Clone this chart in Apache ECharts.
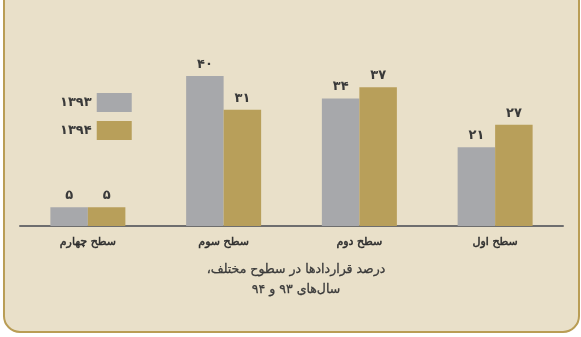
<!DOCTYPE html>
<html>
<head>
<meta charset="utf-8">
<script src="https://cdn.jsdelivr.net/npm/echarts@6/dist/echarts.min.js"></script>
<style>
  html, body { margin: 0; padding: 0; background: #ffffff; }
  #chart { width: 581px; height: 337px; }
</style>
</head>
<body>
<div id="chart"></div>
<script>
// Levels, listed left to right as drawn (the first level sits at the right)
const categories = ['سطح چهارم', 'سطح سوم', 'سطح دوم', 'سطح اول'];
const seriesNames = ['۱۳۹۳', '۱۳۹۴'];
const values1393 = [5, 40, 34, 21];
const values1394 = [5, 31, 37, 27];

const persianDigits = '۰۱۲۳۴۵۶۷۸۹';
const toPersian = n => String(n).replace(/\d/g, d => persianDigits[+d]);

const FONT = '"DejaVu Sans", sans-serif';
const INK = '#3a3a3a';
const RLM = '\u200F';

const chart = echarts.init(document.getElementById('chart'), null, { renderer: 'canvas' });

const barLabel = {
  show: true,
  position: 'top',
  distance: 5,
  color: INK,
  fontFamily: FONT,
  fontWeight: 'bold',
  fontSize: 13,
  formatter: p => toPersian(p.value)
};

chart.setOption({
  backgroundColor: '#ffffff',
  animation: false,
  graphic: [{
    type: 'rect',
    z: -10,
    silent: true,
    shape: { x: 4, y: -20, width: 575, height: 352, r: [0, 0, 16, 16] },
    style: { fill: '#e9e0c9', stroke: '#b99d55', lineWidth: 2 }
  }],
  title: {
    text: RLM + 'درصد قراردادها در سطوح مختلف،' + RLM + '\n' + RLM + 'سال‌های ۹۳ و ۹۴' + RLM,
    left: 291,
    top: 255,
    textAlign: 'center',
    textStyle: {
      fontFamily: FONT,
      fontSize: 12.5,
      fontWeight: 'normal',
      color: INK,
      lineHeight: 20,
      textBorderColor: INK,
      textBorderWidth: 0.3
    }
  },
  legend: {
    orient: 'vertical',
    left: 55,
    top: 88,
    align: 'right',
    itemWidth: 35,
    itemHeight: 19,
    itemGap: 9,
    icon: 'rect',
    data: seriesNames,
    textStyle: { fontFamily: FONT, fontSize: 13, fontWeight: 'bold', color: INK }
  },
  grid: { left: 20, right: 18, top: 76, bottom: 111, containLabel: false },
  xAxis: {
    type: 'category',
    data: categories,
    axisLine: { lineStyle: { color: '#6e6e6e', width: 2 } },
    axisTick: { show: false },
    axisLabel: {
      margin: 11,
      color: '#2e2e2e',
      fontFamily: FONT,
      fontSize: 11,
      fontWeight: 'normal',
      textBorderColor: '#2e2e2e',
      textBorderWidth: 0.5
    }
  },
  yAxis: {
    type: 'value',
    min: 0,
    max: 40,
    show: false,
    splitLine: { show: false }
  },
  series: [
    {
      name: seriesNames[0],
      type: 'bar',
      data: values1393,
      barWidth: 37.5,
      barGap: '0%',
      itemStyle: { color: '#a7a8ab' },
      label: barLabel
    },
    {
      name: seriesNames[1],
      type: 'bar',
      data: values1394,
      barWidth: 37.5,
      barGap: '0%',
      itemStyle: { color: '#b89f5a' },
      label: barLabel
    }
  ]
});
</script>
</body>
</html>
